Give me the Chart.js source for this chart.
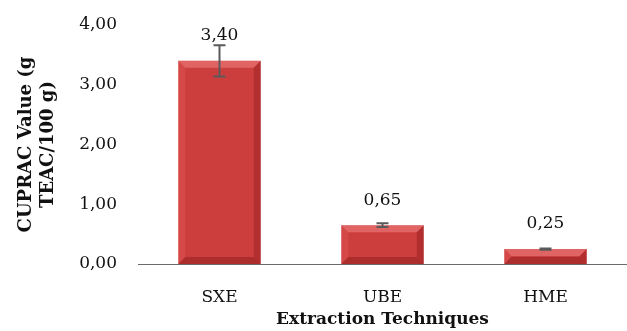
<!DOCTYPE html>
<html>
<head>
<meta charset="utf-8">
<script src="https://cdn.jsdelivr.net/npm/chart.js@4.4.1/dist/chart.umd.min.js"></script>
<style>
  html, body { margin: 0; padding: 0; background: #fff; }
  #wrap { width: 627px; height: 331px; }
</style>
</head>
<body>
<div id="wrap"><canvas id="chart" width="627" height="331"></canvas></div>
<script>
// Data
var techniques = ['SXE', 'UBE', 'HME'];
var cupracValues = [3.40, 0.65, 0.25];
var cupracErrors = [0.26, 0.03, 0.01];
var yTicks = [0, 1, 2, 3, 4];

var serif = "'DejaVu Serif', 'Liberation Serif', serif";

function fmt(v) {
  return v.toFixed(2).replace('.', ',');
}

// Error bars and value labels drawn over the bars
var errorBarPlugin = {
  id: 'errorBars',
  afterDatasetsDraw: function (chart) {
    var ctx = chart.ctx;
    var meta = chart.getDatasetMeta(0);
    var y = chart.scales.y;
    ctx.save();
    meta.data.forEach(function (bar, i) {
      var v = cupracValues[i];
      var e = cupracErrors[i];
      var top = y.getPixelForValue(v + e);
      var bottom = y.getPixelForValue(v - e);
      ctx.strokeStyle = '#5a5a5a';
      ctx.lineWidth = 2;
      ctx.beginPath();
      ctx.moveTo(bar.x, top);
      ctx.lineTo(bar.x, bottom);
      ctx.moveTo(bar.x - 6, top);
      ctx.lineTo(bar.x + 6, top);
      ctx.moveTo(bar.x - 6, bottom);
      ctx.lineTo(bar.x + 6, bottom);
      ctx.stroke();

      ctx.fillStyle = '#111';
      ctx.font = '17px ' + serif;
      ctx.textAlign = 'center';
      ctx.textBaseline = 'middle';
      ctx.fillText(fmt(v), bar.x, bar.y - 25);
    });
    ctx.restore();
  }
};

// Bevelled bar look
var bevelPlugin = {
  id: 'bevel',
  afterDatasetDraw: function (chart) {
    var ctx = chart.ctx;
    var meta = chart.getDatasetMeta(0);
    ctx.save();
    meta.data.forEach(function (bar) {
      var l = bar.x - bar.width / 2, r = bar.x + bar.width / 2;
      var t = bar.y, b = bar.base;
      var d = Math.min(7, (b - t) / 2);
      // top bevel (light)
      ctx.fillStyle = 'rgba(255,160,160,0.4)';
      ctx.beginPath();
      ctx.moveTo(l, t); ctx.lineTo(r, t); ctx.lineTo(r - d, t + d); ctx.lineTo(l + d, t + d);
      ctx.closePath(); ctx.fill();
      // left bevel
      ctx.fillStyle = 'rgba(255,120,120,0.18)';
      ctx.beginPath();
      ctx.moveTo(l, t); ctx.lineTo(l + d, t + d); ctx.lineTo(l + d, b - d); ctx.lineTo(l, b);
      ctx.closePath(); ctx.fill();
      // right bevel
      ctx.fillStyle = 'rgba(90,0,0,0.22)';
      ctx.beginPath();
      ctx.moveTo(r, t); ctx.lineTo(r - d, t + d); ctx.lineTo(r - d, b - d); ctx.lineTo(r, b);
      ctx.closePath(); ctx.fill();
      // bottom bevel
      ctx.fillStyle = 'rgba(80,0,0,0.25)';
      ctx.beginPath();
      ctx.moveTo(l, b); ctx.lineTo(r, b); ctx.lineTo(r - d, b - d); ctx.lineTo(l + d, b - d);
      ctx.closePath(); ctx.fill();
    });
    ctx.restore();
  }
};

var ctx = document.getElementById('chart').getContext('2d');
var chart = new Chart(ctx, {
  type: 'bar',
  data: {
    labels: techniques,
    datasets: [{
      data: cupracValues,
      backgroundColor: '#cc3d3d',
      borderWidth: 0,
      barPercentage: 0.506,
      categoryPercentage: 1.0
    }]
  },
  options: {
    responsive: false,
    animation: false,
    layout: { padding: { top: 25, right: 0, left: 16, bottom: 1 } },
    plugins: {
      legend: { display: false },
      tooltip: { enabled: false }
    },
    scales: {
      x: {
        afterFit: function (axis) { axis.height = 66; },
        grid: { display: false, drawTicks: false },
        border: { display: true, color: '#6b6b6b', width: 1 },
        ticks: { color: '#111', font: { family: serif, size: 17 }, padding: 23 },
        title: {
          display: true,
          text: 'Extraction Techniques',
          color: '#111',
          font: { family: serif, size: 17, weight: 'bold' },
          padding: { top: 0, bottom: 0 }
        }
      },
      y: {
        min: 0,
        max: 4,
        afterFit: function (axis) {
          axis.width = 122;
          axis.paddingTop = 0;
          axis.paddingBottom = 0;
        },
        afterBuildTicks: function (axis) {
          axis.ticks = yTicks.map(function (v) { return { value: v }; });
        },
        grid: { display: false, drawTicks: false },
        border: { display: false },
        ticks: {
          color: '#111',
          font: { family: serif, size: 17 },
          padding: 21,
          callback: function (v) { return fmt(v); }
        },
        title: {
          display: true,
          text: ['CUPRAC Value (g', 'TEAC/100 g)'],
          color: '#111',
          font: { family: serif, size: 18, weight: 'bold' },
          padding: { top: 0, bottom: 8 }
        }
      }
    }
  },
  plugins: [bevelPlugin, errorBarPlugin]
});
</script>
</body>
</html>
